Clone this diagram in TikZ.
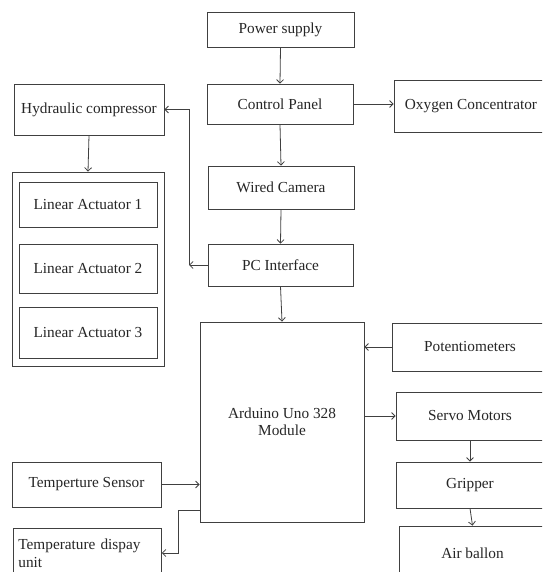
\documentclass[tikz,border=0pt]{standalone}
\usepackage{fontspec}
\setmainfont{Liberation Serif}
\usetikzlibrary{arrows.meta}
\tikzset{
  box/.style={draw=black!75, line width=0.8pt, inner sep=0pt, align=center,
    font=\fontsize{15.3}{17.5}\selectfont, text=black!85},
  arr/.style={draw=black!75, line width=0.8pt, -{Straight Barb[length=3.5pt,width=7pt]}},
  ln/.style={draw=black!75, line width=0.8pt}
}
\begin{document}
\begin{tikzpicture}[x=1pt,y=1pt]
\useasboundingbox (0,0) rectangle (542,-572);
\clip (0,0) rectangle (542,-572);
\fill[white] (0,0) rectangle (542,-572);
% nodes
\node[box, minimum width=147pt, minimum height=35pt] (power) at (280.5,-29.5) {Power supply};
\node[box, minimum width=146pt, minimum height=40pt] (control) at (280,-104) {Control Panel};
\node[box, minimum width=154pt, minimum height=52pt] (oxy) at (471,-106) {Oxygen Concentrator};
\node[box, minimum width=150pt, minimum height=51pt] (hyd) at (89,-109.5) {Hydraulic compressor};
\node[box, minimum width=146pt, minimum height=43pt] (cam) at (281,-187.5) {Wired Camera};
\node[box, minimum width=145pt, minimum height=42pt] (pc) at (280.5,-265) {PC Interface};
\node[box, minimum width=152pt, minimum height=194pt] (group) at (88,-269) {};
\node[box, minimum width=138pt, minimum height=45pt] (la1) at (88,-204.5) {Linear Actuator 1};
\node[box, minimum width=138pt, minimum height=49pt] (la2) at (88,-268.5) {Linear Actuator 2};
\node[box, minimum width=138pt, minimum height=51pt] (la3) at (88,-332.5) {Linear Actuator 3};
\node[box, minimum width=164pt, minimum height=200pt] (ard) at (282,-422) {Arduino Uno 328\\Module};
\node[box, minimum width=156pt, minimum height=48pt] (pot) at (470,-347) {Potentiometers};
\node[box, minimum width=148pt, minimum height=48pt] (servo) at (470,-416) {Servo Motors};
\node[box, minimum width=148pt, minimum height=46pt] (grip) at (470,-485) {Gripper};
\node[box, minimum width=147pt, minimum height=54pt] (air) at (472.5,-553) {Air ballon};
\node[box, minimum width=149pt, minimum height=45pt] (ts) at (86.5,-484.5) {Temperture Sensor};
\node[box, anchor=north west, minimum width=148pt, minimum height=50pt, text width=138pt,
  align=left, inner xsep=5pt, inner ysep=5pt] (td) at (13,-528) {Temperature dispay\\unit};
% connectors
\coordinate (c1) at (189,-265);
\coordinate (c2) at (178,-510);
\coordinate (c3) at (178,-553);
\draw[arr] (power.south) -- (control.north);
\draw[arr] (control.south) -- (cam.north);
\draw[arr] (cam.south) -- (pc.north);
\draw[arr] (pc.south) -- (ard.north);
\draw[arr] (control.east) -- (control.east -| oxy.west);
\draw[arr] (pc.west) -- (c1);
\draw[arr] (c1) |- (hyd.east);
\draw[arr] (hyd.south) -- (group.north);
\draw[arr] (pot.west) -- (pot.west -| ard.east);
\draw[arr] (ard.east |- servo.west) -- (servo.west);
\draw[arr] (servo.south) -- (grip.north);
\draw[arr] (grip.south) -- (air.north);
\draw[arr] (ts.east) -- (ts.east -| ard.west);
\draw[arr] (ard.west |- c2) -- (c2) -- (c3) -- (c3 -| td.east);
\end{tikzpicture}
\end{document}
